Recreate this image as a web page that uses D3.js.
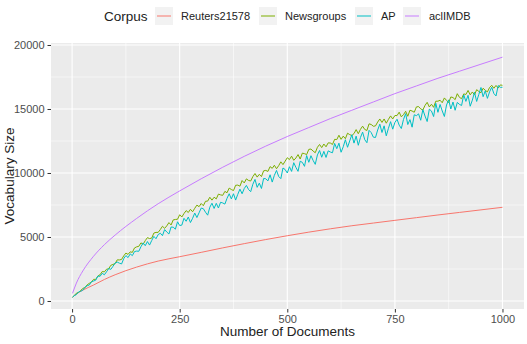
<!DOCTYPE html>
<html>
<head>
<meta charset="utf-8">
<script src="https://cdn.jsdelivr.net/npm/d3@7"></script>
<style>
  body { margin: 0; background: #fff; }
  svg { font-family: "Liberation Sans", Arial, sans-serif; }
</style>
</head>
<body>
<div id="chart"></div>
<script>
// Corpus names and colours (ggplot default hues)
var corpora = ["Reuters21578", "Newsgroups", "AP", "aclIMDB"];
var colors = ["#F8766D", "#7CAE00", "#00BFC4", "#C77CFF"];

// smooth curves
var smoothDocs = [1, 10, 25, 50, 75, 100, 150, 200, 250, 300, 350, 400, 450, 500,
    550, 600, 650, 700, 750, 800, 850, 900, 950, 1000];
var reutersVocab = [290, 550, 850, 1250, 1680, 2050, 2650, 3120, 3460, 3800, 4150, 4480, 4800, 5100,
    5380, 5640, 5880, 6090, 6300, 6510, 6720, 6920, 7120, 7320];
var imdbVocab = [600, 1400, 2350, 3500, 4400, 5150, 6450, 7600, 8600, 9550, 10450, 11300, 12100, 12850,
    13550, 14250, 14900, 15550, 16200, 16800, 17400, 17950, 18500, 19050];

// noisy curves, every 5 documents
var noisyDocs = [1].concat(d3.range(5, 1001, 5));
var newsVocab = [290,
    426, 608, 664, 818, 990, 1040, 1264, 1380, 1480, 1692,
    1689, 1956, 2055, 2298, 2277, 2484, 2511, 2790, 2853, 2928,
    3216, 3208, 3248, 3528, 3744, 3640, 3840, 3800, 4144, 4232,
    4271, 4540, 4431, 4718, 4951, 4878, 4913, 5308, 5361, 5360,
    5585, 5840, 5675, 5870, 6125, 5940, 6335, 6370, 6385, 6740,
    6563, 6834, 7061, 6914, 7163, 6972, 7243, 7492, 7367, 7616,
    7443, 7792, 7805, 8106, 7879, 8108, 7977, 8350, 8291, 8256,
    8565, 8455, 8820, 8710, 8625, 9040, 9055, 8970, 9410, 9225,
    9541, 9418, 9373, 9718, 9959, 9680, 9895, 9720, 10169, 10202,
    10122, 10499, 10363, 10605, 10334, 10576, 10872, 10655, 10924, 11193,
    11048, 11314, 10992, 11174, 11440, 11090, 11552, 11510, 11440, 11846,
    11870, 11713, 11585, 12008, 12228, 11984, 12262, 12047, 12354, 12342,
    12230, 12630, 12610, 12950, 12630, 12880, 12680, 13110, 13000, 12920,
    13080, 13390, 13070, 13410, 13660, 13400, 13320, 13840, 13790, 13650,
    13680, 13980, 14220, 13950, 14220, 13890, 14190, 14460, 14220, 14490,
    14485, 14750, 14385, 14560, 14825, 14430, 14905, 14840, 14745, 15160,
    15190, 15010, 14920, 15280, 15520, 15160, 15370, 15130, 15610, 15610,
    15685, 15490, 15865, 15670, 15505, 15940, 15895, 15730, 16195, 15910,
    15805, 16180, 16135, 16450, 16105, 16330, 16105, 16510, 16375, 16270,
    16620, 16465, 16335, 16680, 16850, 16620, 16840, 16635, 16880, 16850];
var apVocab = [290,
    420, 500, 710, 760, 850, 1080, 1190, 1250, 1500, 1560,
    1630, 1950, 1930, 2160, 2050, 2280, 2540, 2470, 2710, 2960,
    3040, 2955, 2895, 3310, 3550, 3390, 3680, 3545, 3860, 3900,
    3885, 4240, 4535, 4320, 4645, 4370, 4725, 5050, 4865, 5190,
    5295, 5105, 5580, 5390, 5235, 5780, 5765, 5610, 6190, 5895,
    5930, 6460, 6230, 6560, 6130, 6460, 6870, 6520, 6890, 7260,
    7210, 6935, 6705, 7330, 7640, 7230, 7630, 7265, 7710, 7660,
    7570, 8020, 8380, 7975, 8380, 7885, 8335, 8740, 8380, 8785,
    9030, 8710, 8540, 9120, 9500, 8880, 9210, 8790, 9570, 9550,
    9380, 9860, 9290, 9820, 10200, 9730, 9560, 10390, 10270, 10000,
    10490, 10125, 10805, 10440, 10130, 10920, 10830, 10520, 11365, 10835,
    11350, 10985, 10675, 11410, 11760, 11230, 11690, 11215, 11730, 11640,
    11580, 12310, 11900, 12330, 11620, 12050, 12600, 12010, 12500, 12990,
    12335, 12880, 12165, 12770, 13195, 12600, 12365, 13330, 13155, 12800,
    12775, 13360, 13815, 13165, 13685, 12905, 13490, 14010, 13425, 13945,
    14200, 13740, 13475, 14185, 14635, 13785, 14170, 13580, 14550, 14480,
    14620, 14120, 14950, 14450, 14020, 14990, 14840, 14410, 15450, 14740,
    15355, 14850, 14415, 15310, 15715, 15000, 15545, 14900, 15515, 15360,
    15275, 16100, 15595, 16070, 15215, 15690, 16305, 15590, 16135, 16680,
    15960, 16420, 15830, 16340, 16700, 16210, 16020, 16830, 16690, 16700];

var xTicks = [0, 250, 500, 750, 1000];
var xMinor = [125, 375, 625, 875];
var yTicks = [0, 5000, 10000, 15000, 20000];
var yMinor = [2500, 7500, 12500, 17500];

var W = 527, H = 344;
var panel = {left: 51, right: 524, top: 43, bottom: 309};

var svg = d3.select("#chart").append("svg")
    .attr("width", W)
    .attr("height", H);

var x = d3.scaleLinear().domain([-49, 1050]).range([panel.left, panel.right]);
var y = d3.scaleLinear().domain([-625, 20156]).range([panel.bottom, panel.top]);

// panel background
svg.append("rect")
    .attr("x", panel.left).attr("y", panel.top)
    .attr("width", panel.right - panel.left)
    .attr("height", panel.bottom - panel.top)
    .attr("fill", "#EBEBEB");

// grid
var grid = svg.append("g");
grid.selectAll(".xminor").data(xMinor).enter().append("line")
    .attr("x1", d => x(d)).attr("x2", d => x(d))
    .attr("y1", panel.top).attr("y2", panel.bottom)
    .attr("stroke", "#fff").attr("stroke-width", 0.55);
grid.selectAll(".yminor").data(yMinor).enter().append("line")
    .attr("y1", d => y(d)).attr("y2", d => y(d))
    .attr("x1", panel.left).attr("x2", panel.right)
    .attr("stroke", "#fff").attr("stroke-width", 0.55);
grid.selectAll(".xmajor").data(xTicks).enter().append("line")
    .attr("x1", d => x(d)).attr("x2", d => x(d))
    .attr("y1", panel.top).attr("y2", panel.bottom)
    .attr("stroke", "#fff").attr("stroke-width", 1.1);
grid.selectAll(".ymajor").data(yTicks).enter().append("line")
    .attr("y1", d => y(d)).attr("y2", d => y(d))
    .attr("x1", panel.left).attr("x2", panel.right)
    .attr("stroke", "#fff").attr("stroke-width", 1.1);

// lines, drawn in legend order like ggplot
var series = [
    {docs: smoothDocs, vals: reutersVocab, curve: d3.curveMonotoneX},
    {docs: noisyDocs, vals: newsVocab, curve: d3.curveLinear},
    {docs: noisyDocs, vals: apVocab, curve: d3.curveLinear},
    {docs: smoothDocs, vals: imdbVocab, curve: d3.curveMonotoneX}
];
series.forEach(function (s, i) {
    var line = d3.line()
        .x(function (d, j) { return x(s.docs[j]); })
        .y(function (d) { return y(d); })
        .curve(s.curve);
    svg.append("path")
        .attr("d", line(s.vals))
        .attr("fill", "none")
        .attr("stroke", colors[i])
        .attr("stroke-width", 1)
        .attr("stroke-linejoin", "round");
});

// axes
var xAxis = svg.append("g")
    .attr("transform", "translate(0," + panel.bottom + ")")
    .call(d3.axisBottom(x).tickValues(xTicks).tickSize(3.5).tickPadding(3).tickFormat(d3.format("d")));
var yAxis = svg.append("g")
    .attr("transform", "translate(" + panel.left + ",0)")
    .call(d3.axisLeft(y).tickValues(yTicks).tickSize(3.5).tickPadding(3).tickFormat(d3.format("d")));
[xAxis, yAxis].forEach(function (a) {
    a.select(".domain").remove();
    a.selectAll("line").attr("stroke", "#333");
    a.selectAll("text").attr("fill", "#4D4D4D").style("font-size", "11px");
});

// axis titles
svg.append("text")
    .attr("x", (panel.left + panel.right) / 2)
    .attr("y", 336)
    .attr("text-anchor", "middle")
    .style("font-size", "13.5px")
    .attr("fill", "#222")
    .text("Number of Documents");
svg.append("text")
    .attr("transform", "translate(14," + ((panel.top + panel.bottom) / 2) + ")rotate(-90)")
    .attr("text-anchor", "middle")
    .style("font-size", "13.5px")
    .attr("fill", "#222")
    .text("Vocabulary Size");

// legend
var legend = svg.append("g");
legend.append("text")
    .attr("x", 104).attr("y", 21)
    .style("font-size", "13.5px")
    .attr("fill", "#222")
    .text("Corpus");
var keyX = [155, 259, 355, 403];
corpora.forEach(function (c, i) {
    var g = legend.append("g").attr("transform", "translate(" + keyX[i] + ",7)");
    g.append("rect").attr("width", 18).attr("height", 18).attr("fill", "#F2F2F2");
    g.append("line").attr("x1", 2).attr("x2", 16).attr("y1", 9).attr("y2", 9)
        .attr("stroke", colors[i]).attr("stroke-width", 1);
    g.append("text").attr("x", 26).attr("y", 13)
        .style("font-size", "11px")
        .attr("fill", "#222")
        .text(c);
});
</script>
</body>
</html>
